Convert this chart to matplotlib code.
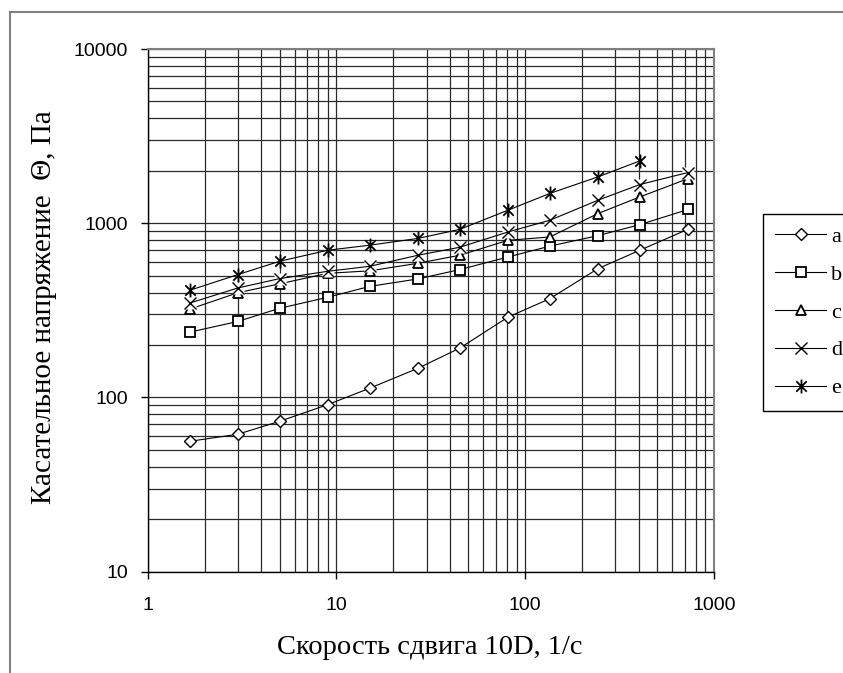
import matplotlib
matplotlib.use("Agg")
import matplotlib.pyplot as plt
from matplotlib.path import Path
from matplotlib.patches import Rectangle
from matplotlib.ticker import FuncFormatter, LogLocator

# shear rate, 1/s
shear = [1.667, 3, 5, 9, 15, 27, 45, 81, 135, 243, 405, 729]

# shear stress, Pa
tau_a = [56, 61.5, 73, 91, 113, 147, 192, 289, 369, 549, 700, 924]
tau_b = [237, 273, 325, 376, 434, 479, 542, 640, 739, 849, 982, 1200]
tau_c = [321, 399, 449, 516, 533, 589, 655, 798, 834, 1137, 1416, 1803]
tau_d = [348, 425, 481, 530, 566, 655, 728, 891, 1040, 1356, 1668, 1955]
tau_e = [412, 507, 605, 700, 748, 818, 922, 1188, 1483, 1846, 2280]

labels = ["a", "b", "c", "d", "e"]

serif = ["Liberation Serif", "DejaVu Serif"]
plt.rcParams["font.family"] = ["Liberation Sans", "DejaVu Sans"]

# asterisk marker: vertical bar plus an X
star = Path([(0, -1), (0, 1), (-0.75, -0.75), (0.75, 0.75), (-0.75, 0.75), (0.75, -0.75)],
            [Path.MOVETO, Path.LINETO, Path.MOVETO, Path.LINETO, Path.MOVETO, Path.LINETO])

fig = plt.figure(figsize=(8.43, 6.73), dpi=100)
ax = fig.add_axes([147.7 / 843, 1 - 571.7 / 673, (714 - 147.7) / 843, (571.7 - 49) / 673])

line_kw = dict(color="black", lw=0.8)
ax.plot(shear, tau_a, marker="D", ms=6.5, mfc="white", mec="black", mew=1.0, label=labels[0], **line_kw)
ax.plot(shear, tau_b, marker="s", ms=7, mfc="white", mec="black", mew=1.3, label=labels[1], **line_kw)
ax.plot(shear, tau_c, marker="^", ms=7.5, mfc="white", mec="black", mew=1.3, label=labels[2], **line_kw)
# white box behind the crosses, as in the spreadsheet rendering
ax.plot(shear, tau_d, ls="none", marker="s", ms=8, mfc="white", mec="none", zorder=2.5)
ax.plot(shear, tau_d, marker="x", ms=9, mec="black", mew=1.0, label=labels[3], zorder=2.6, **line_kw)
ax.plot(shear[:len(tau_e)], tau_e, marker=star, ms=10, mec="black", mew=1.3, label=labels[4], zorder=2.7, **line_kw)

ax.set_xscale("log")
ax.set_yscale("log")
ax.set_xlim(1, 1000)
ax.set_ylim(10, 10000)

fmt = FuncFormatter(lambda v, _: f"{v:g}")
for axis in (ax.xaxis, ax.yaxis):
    axis.set_major_locator(LogLocator(base=10))
    axis.set_minor_locator(LogLocator(base=10, subs=range(2, 10)))
    axis.set_major_formatter(fmt)
    axis.set_minor_formatter(FuncFormatter(lambda v, _: ""))

ax.grid(which="both", color="#2a2a2a", lw=0.9)
ax.set_axisbelow(True)
ax.tick_params(which="major", direction="out", length=5, width=1, labelsize=14, pad=9)
ax.tick_params(axis="x", which="major", pad=13)
ax.tick_params(which="minor", length=0)
for s in ("left", "bottom"):
    ax.spines[s].set_color("black")
    ax.spines[s].set_linewidth(1.0)
for s in ("top", "right"):
    ax.spines[s].set_color("#808080")
    ax.spines[s].set_linewidth(1.5)

fig.text(430 / 843, 1 - 648 / 673, "Скорость сдвига 10D, 1/с", family=serif,
         fontsize=20.5, ha="center", va="center")
fig.text(44 / 843, 1 - 307 / 673, "Касательное напряжение  Θ, Па", family=serif,
         fontsize=21, ha="center", va="center", rotation=90)

leg = ax.legend(loc="upper left", bbox_to_anchor=(763 / 843, 1 - 214 / 673),
                bbox_transform=fig.transFigure, borderaxespad=0, frameon=True,
                fancybox=False, edgecolor="black", framealpha=1,
                prop={"family": serif, "size": 16}, handlelength=2.3,
                handletextpad=0.2, labelspacing=0.78, borderpad=0.55)
leg.get_frame().set_linewidth(1.0)

# outer chart border
fig.patches.append(Rectangle((10 / 843, -0.1), 1.2, 1 - 12 / 673 + 0.1, transform=fig.transFigure,
                             fill=False, edgecolor="#808080", lw=1.5))

fig.savefig("out.png", dpi=100)
